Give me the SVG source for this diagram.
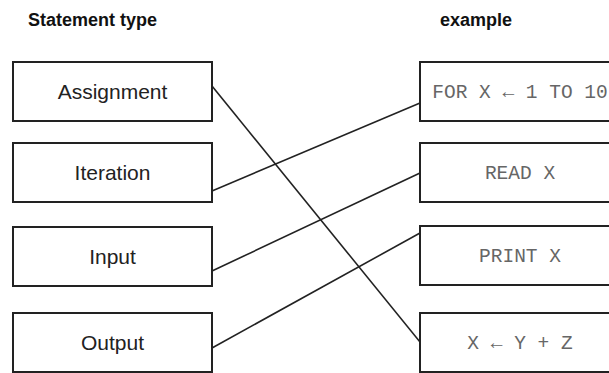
<svg xmlns="http://www.w3.org/2000/svg" width="609" height="373" viewBox="0 0 609 373">
  <style>
    .box { fill: #fff; stroke: #222; stroke-width: 2; }
    .head { font-family: "Liberation Sans", Arial, sans-serif; font-weight: bold; font-size: 18px; fill: #111; }
    .kind { font-family: "Liberation Sans", Arial, sans-serif; font-size: 21px; fill: #222; text-anchor: middle; }
    .code { font-family: "Liberation Mono", "Courier New", monospace; font-size: 19.5px; fill: #666; text-anchor: middle; }
    .link { stroke: #222; stroke-width: 1.6; fill: none; }
  </style>
  <rect width="609" height="373" fill="#fff"/>

  <!-- column headings -->
  <text class="head" x="28" y="26">Statement type</text>
  <text class="head" x="440" y="26">example</text>

  <!-- connectors -->
  <g id="connectors">
    <line class="link" x1="212" y1="86" x2="420" y2="342"/>
    <line class="link" x1="212" y1="191" x2="420" y2="103"/>
    <line class="link" x1="212" y1="271" x2="420" y2="173"/>
    <line class="link" x1="212" y1="348" x2="420" y2="233"/>
  </g>

  <!-- statement types -->
  <g id="assignment">
    <rect class="box" x="13" y="62" width="199" height="59"/>
    <text class="kind" x="112.5" y="99">Assignment</text>
  </g>
  <g id="iteration">
    <rect class="box" x="13" y="143" width="199" height="59"/>
    <text class="kind" x="112.5" y="180">Iteration</text>
  </g>
  <g id="input">
    <rect class="box" x="13" y="227" width="199" height="59"/>
    <text class="kind" x="112.5" y="264">Input</text>
  </g>
  <g id="output">
    <rect class="box" x="13" y="313" width="199" height="59"/>
    <text class="kind" x="112.5" y="350">Output</text>
  </g>

  <!-- examples -->
  <g id="ex-for">
    <rect class="box" x="420" y="62" width="200" height="59"/>
    <text class="code" x="520" y="98">FOR X ← 1 TO 10</text>
  </g>
  <g id="ex-read">
    <rect class="box" x="420" y="143" width="200" height="59"/>
    <text class="code" x="520" y="179">READ X</text>
  </g>
  <g id="ex-print">
    <rect class="box" x="420" y="226" width="200" height="59"/>
    <text class="code" x="520" y="262">PRINT X</text>
  </g>
  <g id="ex-assign">
    <rect class="box" x="420" y="313" width="200" height="59"/>
    <text class="code" x="520" y="349">X ← Y + Z</text>
  </g>
</svg>
